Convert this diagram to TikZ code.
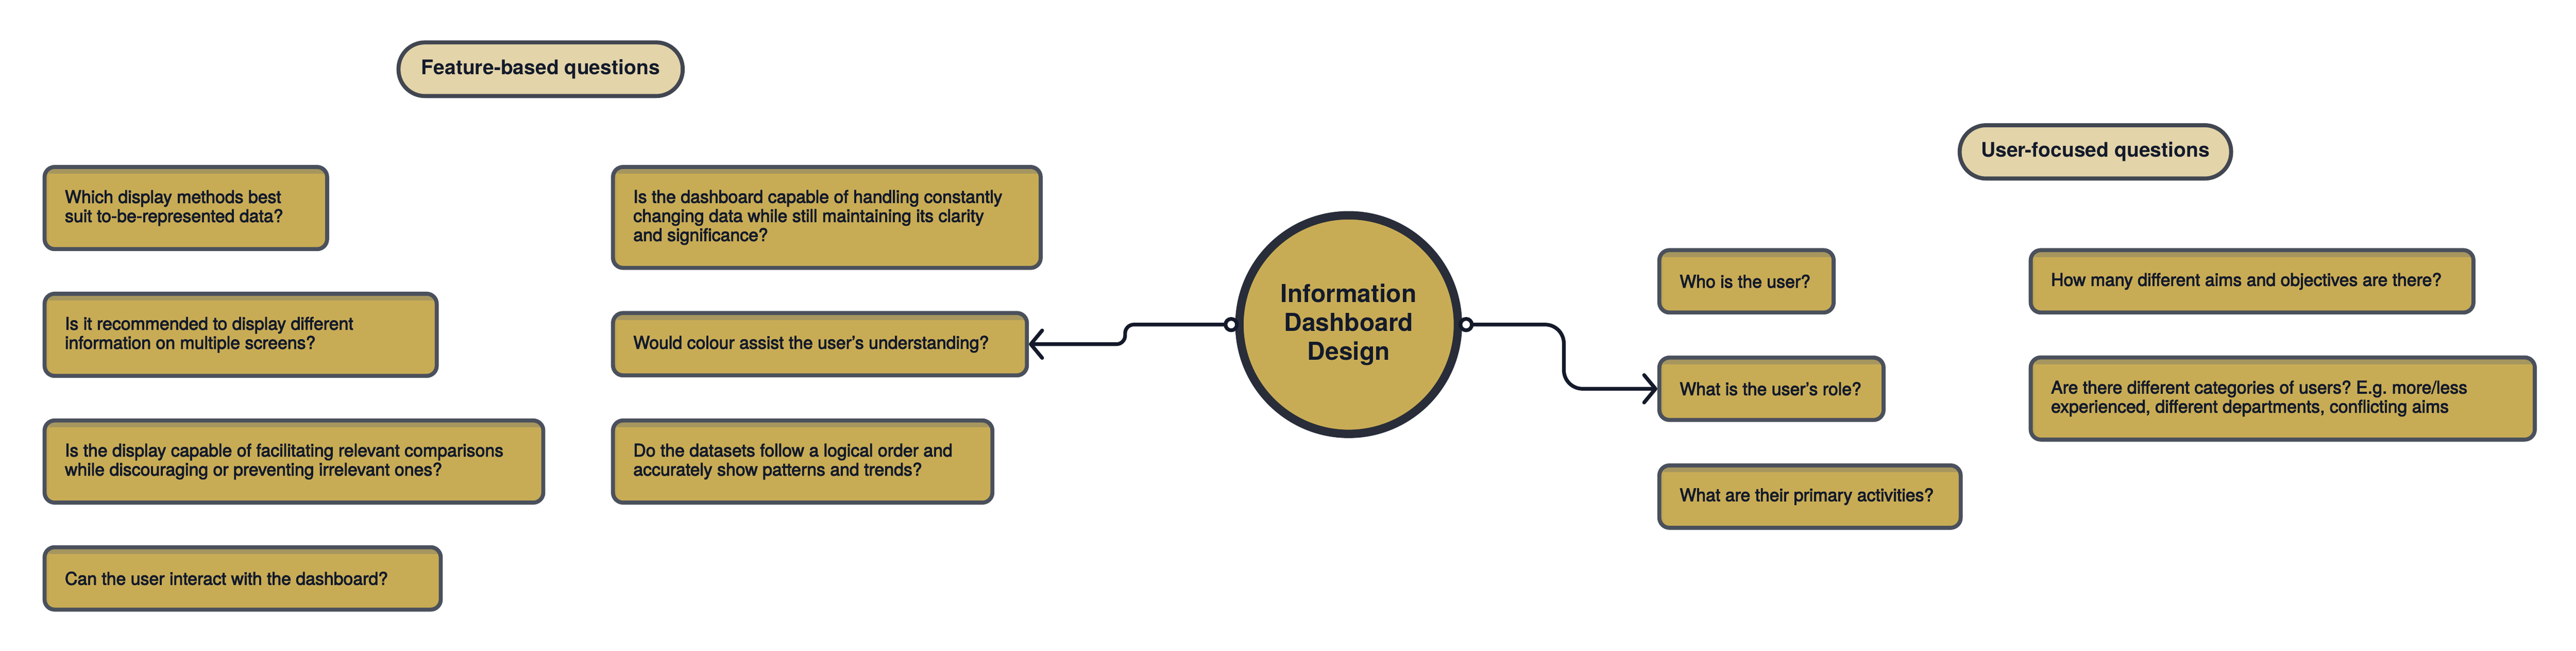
\documentclass[tikz,border=0pt]{standalone}
\usepackage{fontspec}
\setmainfont{TeX Gyre Heros}
\newfontfamily\qfont{TeX Gyre Heros}[FakeBold=3]
\usepackage{tikz}
\usetikzlibrary{positioning}
\usetikzlibrary{arrows.meta}
\definecolor{boxfill}{HTML}{C8AC55}
\definecolor{boxline}{HTML}{4A505C}
\definecolor{boxshade}{HTML}{A4955F}
\definecolor{pillfill}{HTML}{E3D4A9}
\definecolor{pillline}{HTML}{414651}
\definecolor{hubline}{HTML}{282D39}
\definecolor{connline}{HTML}{141A2A}
\definecolor{ink}{HTML}{131A2B}
\newcommand*{\padX}{0.66cm}
\frenchspacing

\begin{document}
\begin{tikzpicture}[
	qbox/.style={rectangle,draw=boxline,fill=boxfill,line width=0.12cm,rounded corners=0.3cm,anchor=north west,inner sep=0pt,
		path picture={\shade[sharp corners,top color=boxshade,bottom color=boxfill] (path picture bounding box.north west) rectangle ([yshift=-0.2cm]path picture bounding box.north east);
			\shade[sharp corners,left color=boxshade,right color=boxfill,opacity=0.5] (path picture bounding box.north west) rectangle ([xshift=0.14cm]path picture bounding box.south west);}},
	qtext/.style={anchor=west,align=left,inner sep=0pt,text=ink,font=\qfont\fontsize{14.8}{16.2}\selectfont},
	pill/.style={rectangle,draw=pillline,fill=pillfill,line width=0.12cm,rounded corners=0.79cm,inner sep=0pt,text=ink,font=\bfseries\fontsize{17.1}{20}\selectfont},
	hub/.style={circle,draw=hubline,fill=boxfill,line width=0.25cm,minimum size=6.52cm,inner sep=0pt,align=center,text=ink,font=\bfseries\fontsize{21}{24.5}\selectfont},
	knob/.style={circle,draw=connline,fill=white,line width=0.11cm,minimum size=0.34cm,inner sep=0pt},
	conn/.style={draw=connline,line width=0.11cm,line cap=round,-{Straight Barb[length=0.34cm,width=0.82cm,round]}}]
	\fill[white] (0,0) rectangle (76.86,-19.41);
	\useasboundingbox (0,0) rectangle (76.86,-19.41);

	\node[pill,minimum width=8.48cm,minimum height=1.60cm] (feat) at (16.13,-2.065) {Feature-based questions};
	\node[pill,minimum width=8.10cm,minimum height=1.59cm] (user) at (62.52,-4.53) {User-focused questions};

	\node[qbox,minimum width=8.43cm,minimum height=2.45cm] (q1) at (1.27,-4.92) {};
	\node[qtext] (q1t) at ([xshift=\padX]q1.west) {Which display methods best\\suit to-be-represented data?};
	\node[qbox,minimum width=11.70cm,minimum height=2.45cm] (q2) at (1.27,-8.70) {};
	\node[qtext] (q2t) at ([xshift=\padX]q2.west) {Is it recommended to display different\\information on multiple screens?};
	\node[qbox,minimum width=14.88cm,minimum height=2.45cm] (q3) at (1.27,-12.48) {};
	\node[qtext] (q3t) at ([xshift=\padX]q3.west) {Is the display capable of facilitating relevant comparisons\\while discouraging or preventing irrelevant ones?};
	\node[qbox,minimum width=11.82cm,minimum height=1.86cm] (q4) at (1.27,-16.26) {};
	\node[qtext] (q4t) at ([xshift=\padX]q4.west) {Can the user interact with the dashboard?};

	\node[qbox,minimum width=12.76cm,minimum height=3.01cm] (q5) at (18.23,-4.92) {};
	\node[qtext] (q5t) at ([xshift=\padX]q5.west) {Is the dashboard capable of handling constantly\\changing data while still maintaining its clarity\\and significance?};
	\node[qbox,minimum width=12.35cm,minimum height=1.86cm] (q6) at (18.23,-9.275) {};
	\node[qtext] (q6t) at ([xshift=\padX]q6.west) {Would colour assist the user’s understanding?};
	\node[qbox,minimum width=11.32cm,minimum height=2.45cm] (q7) at (18.23,-12.48) {};
	\node[qtext] (q7t) at ([xshift=\padX]q7.west) {Do the datasets follow a logical order and\\accurately show patterns and trends?};

	\node[qbox,minimum width=5.20cm,minimum height=1.86cm] (q8) at (49.45,-7.40) {};
	\node[qtext] (q8t) at ([xshift=\padX]q8.west) {Who is the user?};
	\node[qbox,minimum width=6.69cm,minimum height=1.86cm] (q9) at (49.45,-10.605) {};
	\node[qtext] (q9t) at ([xshift=\padX]q9.west) {What is the user’s role?};
	\node[qbox,minimum width=8.99cm,minimum height=1.86cm] (q10) at (49.45,-13.82) {};
	\node[qtext] (q10t) at ([xshift=\padX]q10.west) {What are their primary activities?};
	\node[qbox,minimum width=13.21cm,minimum height=1.86cm] (q11) at (60.53,-7.40) {};
	\node[qtext] (q11t) at ([xshift=\padX]q11.west) {How many different aims and objectives are there?};
	\node[qbox,minimum width=15.04cm,minimum height=2.45cm] (q12) at (60.53,-10.60) {};
	\node[qtext] (q12t) at ([xshift=\padX]q12.west) {Are there different categories of users? E.g. more/less\\experienced, different departments, conflicting aims};

	\node[hub] (hub) at (40.24,-9.68) {Information\\Dashboard\\Design};
	\node[knob] (lknob) at ([xshift=-0.12cm]hub.west) {};
	\node[knob] (rknob) at ([xshift=0.12cm]hub.east) {};

	\draw[conn,rounded corners=0.26cm] (lknob.west) -- ++(-2.94,0) |- (q6.east);
	\draw[conn,rounded corners=0.56cm] (rknob.east) -- ++(2.69,0) |- (q9.west);
\end{tikzpicture}
\end{document}
